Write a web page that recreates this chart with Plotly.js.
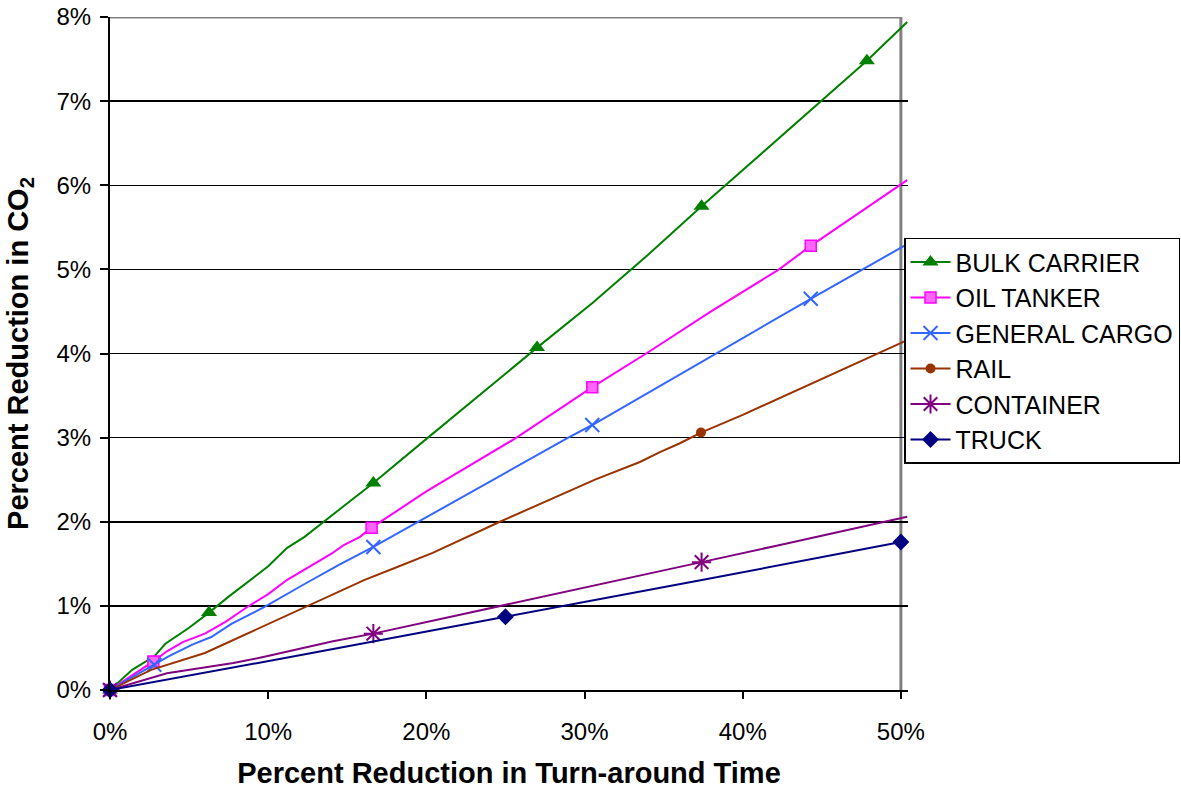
<!DOCTYPE html>
<html>
<head>
<meta charset="utf-8">
<script src="https://cdn.plot.ly/plotly-3.0.1.min.js"></script>
<style>html,body{margin:0;padding:0;background:#fff;}#chart{width:1181px;height:790px;}</style>
</head>
<body>
<div id="chart"></div>
<script>
// Values in percent
var seriesNames = ["BULK CARRIER", "OIL TANKER", "GENERAL CARGO", "RAIL", "CONTAINER", "TRUCK"];

var bulkX = [0, 1.4, 2.8, 3.5, 5.0, 6.26, 7.5, 10.0, 11.2, 12.3, 14.6, 16.65, 20.1, 23.5, 27.0, 30.5, 34.0, 37.4, 42.5, 47.85, 50.4];
var bulkY = [0, 0.24, 0.40, 0.55, 0.74, 0.92, 1.11, 1.47, 1.69, 1.82, 2.16, 2.46, 3.00, 3.53, 4.07, 4.60, 5.17, 5.75, 6.60, 7.48, 7.94];
var bulkMarkX = [0, 6.26, 16.65, 27.0, 37.4, 47.85];
var bulkMarkY = [0, 0.92, 2.46, 4.07, 5.75, 7.48];

var oilX = [0, 2.74, 3.6, 4.6, 6.0, 7.3, 8.7, 10.0, 11.2, 12.3, 14.0, 14.75, 15.8, 16.54, 20.0, 25.7, 30.49, 33.9, 38.0, 42.3, 44.3, 50.4];
var oilY = [0, 0.34, 0.46, 0.57, 0.67, 0.81, 0.99, 1.14, 1.31, 1.43, 1.62, 1.72, 1.82, 1.93, 2.36, 3.0, 3.60, 4.0, 4.50, 5.0, 5.28, 6.06];
var oilMarkX = [0, 2.74, 16.54, 30.49, 44.3];
var oilMarkY = [0, 0.34, 1.93, 3.60, 5.28];

var cargoX = [0, 2.8, 3.7, 5.2, 6.4, 7.7, 9.8, 12.3, 14.5, 16.65, 19.5, 24.0, 28.97, 30.49, 34.0, 38.35, 44.3, 50.4];
var cargoY = [0, 0.30, 0.40, 0.54, 0.63, 0.79, 0.99, 1.26, 1.49, 1.70, 2.0, 2.48, 3.0, 3.15, 3.53, 4.0, 4.65, 5.30];
var cargoMarkX = [0, 2.8, 16.65, 30.49, 44.3];
var cargoMarkY = [0, 0.30, 1.70, 3.15, 4.65];

var railX = [0, 2.6, 6.0, 9.0, 12.3, 14.0, 16.1, 18.0, 20.4, 24.65, 27.8, 30.66, 33.5, 34.8, 36.0, 37.36, 40.0, 42.1, 44.5, 47.0, 50.4];
var railY = [0, 0.24, 0.44, 0.70, 0.99, 1.13, 1.31, 1.45, 1.63, 2.0, 2.26, 2.50, 2.71, 2.83, 2.93, 3.06, 3.27, 3.45, 3.65, 3.87, 4.16];
var railMarkX = [0, 37.36];
var railMarkY = [0, 3.06];

var contX = [0, 3.6, 7.8, 9.9, 12.0, 14.1, 16.65, 19.6, 25.0, 30.0, 34.77, 37.4, 42.0, 46.0, 50.4];
var contY = [0, 0.20, 0.32, 0.40, 0.49, 0.58, 0.67, 0.79, 1.01, 1.21, 1.41, 1.52, 1.71, 1.88, 2.06];
var contMarkX = [0, 16.65, 37.4];
var contMarkY = [0, 0.67, 1.52];

var truckX = [0, 12.5, 25, 37.5, 50];
var truckY = [0, 0.43, 0.87, 1.31, 1.76];
var truckMarkX = [0, 25, 50];
var truckMarkY = [0, 0.87, 1.76];

var xTicks = [0, 10, 20, 30, 40, 50];
var xTickLabels = ["0%", "10%", "20%", "30%", "40%", "50%"];
var yTicks = [0, 1, 2, 3, 4, 5, 6, 7, 8];
var yTickLabels = ["0%", "1%", "2%", "3%", "4%", "5%", "6%", "7%", "8%"];

var FONT = "Arial, 'Liberation Sans', sans-serif";

var styles = [
  {color: "#008000", marker: {symbol: "triangle-up", size: 14, color: "#008000"}},
  {color: "#FF00FF", marker: {symbol: "square", size: 11, color: "#FF66FF", line: {color: "#FF00FF", width: 1.5}}},
  {color: "#3366FF", marker: {symbol: "x-thin-open", size: 14, color: "#3366FF", line: {color: "#3366FF", width: 2}}},
  {color: "#993300", marker: {symbol: "circle", size: 10, color: "#993300"}},
  {color: "#800080", marker: {symbol: "asterisk-open", size: 16, color: "#800080", line: {color: "#800080", width: 2}}},
  {color: "#000080", marker: {symbol: "diamond", size: 13, color: "#000080"}}
];

var lineData = [[bulkX, bulkY], [oilX, oilY], [cargoX, cargoY], [railX, railY], [contX, contY], [truckX, truckY]];
var markData = [[bulkMarkX, bulkMarkY], [oilMarkX, oilMarkY], [cargoMarkX, cargoMarkY], [railMarkX, railMarkY], [contMarkX, contMarkY], [truckMarkX, truckMarkY]];

var traces = [];
for (var i = 0; i < seriesNames.length; i++) {
  var st = styles[i];
  traces.push({
    x: lineData[i][0], y: lineData[i][1], type: "scatter", mode: "lines",
    line: {color: st.color, width: 2}, showlegend: false, hoverinfo: "skip"
  });
  traces.push({
    x: markData[i][0], y: markData[i][1], type: "scatter", mode: "markers",
    marker: st.marker, showlegend: false, cliponaxis: false
  });
}
// legend entries (line + marker), no data drawn
for (var j = 0; j < seriesNames.length; j++) {
  traces.push({
    x: [null], y: [null], type: "scatter", mode: "lines+markers", name: seriesNames[j],
    line: {color: styles[j].color, width: 2}, marker: styles[j].marker
  });
}

var layout = {
  width: 1181, height: 790,
  paper_bgcolor: "#ffffff", plot_bgcolor: "#ffffff",
  margin: {l: 110, r: 273, t: 17, b: 100, autoexpand: false},
  font: {family: FONT, size: 24, color: "#000000"},
  showlegend: true,
  legend: {
    x: 0.995, xanchor: "left", y: 0.672, yanchor: "top",
    bgcolor: "#ffffff", bordercolor: "#000000", borderwidth: 1.5,
    font: {family: FONT, size: 25, color: "#000000"},
    itemwidth: 40, tracegroupgap: 0, traceorder: "normal"
  },
  xaxis: {
    range: [0, 50.45], tickmode: "array", tickvals: xTicks, ticktext: xTickLabels,
    ticks: "outside", ticklen: 7, tickwidth: 2, tickcolor: "#000000",
    showgrid: false, zeroline: false, showline: true, linecolor: "#000000", linewidth: 2,
    tickfont: {family: FONT, size: 24, color: "#000000"}, ticklabelstandoff: 12,
    title: {text: "Percent Reduction in Turn-around Time", font: {family: FONT, size: 29, color: "#000000", weight: "bold"}, standoff: 19},
    fixedrange: true
  },
  yaxis: {
    range: [0, 8], tickmode: "array", tickvals: yTicks, ticktext: yTickLabels,
    ticks: "outside", ticklen: 8, tickwidth: 2, tickcolor: "#000000",
    showgrid: true, gridcolor: "#000000", gridwidth: 1.5,
    zeroline: false, showline: true, linecolor: "#000000", linewidth: 2,
    tickfont: {family: FONT, size: 24, color: "#000000"}, ticklabelstandoff: 4,
    title: {text: "Percent Reduction in CO<sub>2</sub>", font: {family: FONT, size: 29, color: "#000000", weight: "bold"}, standoff: 19},
    fixedrange: true
  },
  shapes: [
    {type: "line", xref: "x", yref: "y", x0: 0, x1: 50, y0: 8, y1: 8, line: {color: "#808080", width: 3}, layer: "below"},
    {type: "line", xref: "x", yref: "y", x0: 50, x1: 50, y0: 0, y1: 8, line: {color: "#808080", width: 3}, layer: "below"}
  ]
};

Plotly.newPlot("chart", traces, layout, {staticPlot: true, displayModeBar: false});
</script>
</body>
</html>
